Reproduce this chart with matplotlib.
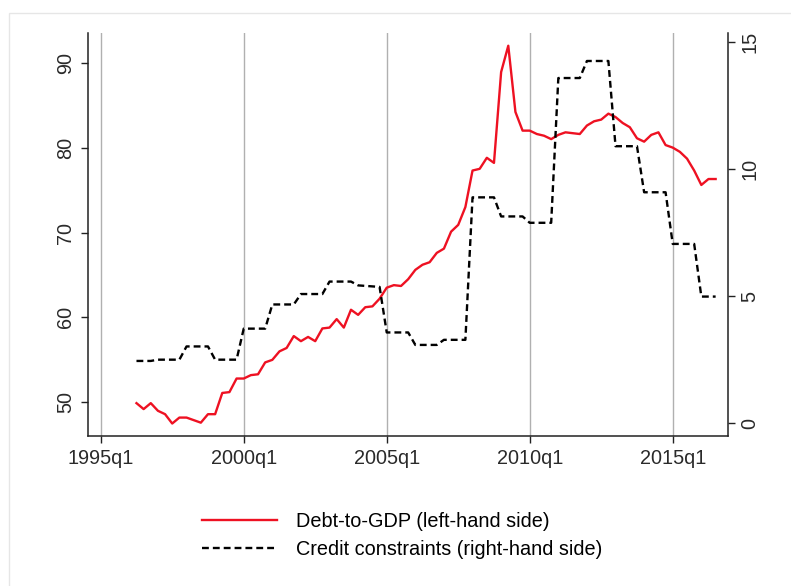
import numpy as np
import pandas as pd
import matplotlib
matplotlib.use("Agg")
import matplotlib.pyplot as plt
from matplotlib.patches import Rectangle

plt.rcParams['font.family'] = ['Liberation Sans', 'DejaVu Sans']

# Quarterly sample, 1996q2 - 2016q3
start_quarter = "1996Q2"

# Household debt-to-GDP ratio (%), left axis
debt_gdp = [
    49.9, 49.2, 49.9, 49.0, 48.6, 47.5, 48.2, 48.2, 47.9, 47.6,
    48.6, 48.6, 51.1, 51.2, 52.8, 52.8, 53.2, 53.3, 54.7, 55.0,
    56.0, 56.4, 57.8, 57.2, 57.7, 57.2, 58.7, 58.8, 59.8, 58.8,
    60.9, 60.3, 61.2, 61.3, 62.2, 63.5, 63.8, 63.7, 64.5, 65.6,
    66.2, 66.5, 67.6, 68.1, 70.1, 70.9, 73.0, 77.3, 77.5, 78.8,
    78.2, 88.9, 92.0, 84.2, 82.0, 82.0, 81.6, 81.4, 81.0, 81.5,
    81.8, 81.7, 81.6, 82.6, 83.1, 83.3, 84.0, 83.6, 82.9, 82.4,
    81.1, 80.7, 81.5, 81.8, 80.3, 80.0, 79.5, 78.7, 77.3, 75.6,
    76.3, 76.3,
]

# Credit constraints index, right axis
credit_constraints = [
    2.45, 2.45, 2.45, 2.50, 2.50, 2.50, 2.50, 3.02, 3.02, 3.02,
    3.02, 2.50, 2.50, 2.50, 2.50, 3.72, 3.72, 3.72, 3.72, 4.67,
    4.67, 4.67, 4.67, 5.08, 5.08, 5.08, 5.08, 5.57, 5.57, 5.57,
    5.57, 5.42, 5.40, 5.38, 5.36, 3.57, 3.57, 3.57, 3.57, 3.08,
    3.08, 3.08, 3.08, 3.28, 3.28, 3.28, 3.28, 8.88, 8.88, 8.88,
    8.88, 8.13, 8.13, 8.13, 8.13, 7.88, 7.88, 7.88, 7.88, 13.57,
    13.57, 13.57, 13.57, 14.24, 14.24, 14.24, 14.24, 10.89, 10.89, 10.89,
    10.89, 9.08, 9.08, 9.08, 9.08, 7.05, 7.05, 7.05, 7.05, 4.98,
    4.98, 4.98,
]

xtick_labels = ["1995q1", "2000q1", "2005q1", "2010q1", "2015q1"]
left_ticks = [50, 60, 70, 80, 90]
right_ticks = [0, 5, 10, 15]

quarters = pd.period_range(start_quarter, periods=len(debt_gdp), freq="Q")
x = np.array([q.ordinal for q in quarters])
xticks = [pd.Period(lab.replace("q", "Q"), freq="Q").ordinal for lab in xtick_labels]

fs = 14.3

fig = plt.figure(figsize=(7.91, 5.86), dpi=100)
fig.patch.set_facecolor("white")
# light outer frame around the graph region
fig.patches.append(Rectangle((9 / 791, -0.05), 1.2, 0.05 + 1 - 13 / 586,
                             transform=fig.transFigure, fill=False,
                             edgecolor="#e6e6e6", lw=1.0))

ax = fig.add_axes([88 / 791, 1 - 436 / 586, 640 / 791, 403 / 586])
ax2 = ax.twinx()

red, = ax.plot(x, debt_gdp, color="#ee1122", lw=1.7,
               label="Debt-to-GDP (left-hand side)")
blk, = ax2.plot(x, credit_constraints, color="black", lw=1.7,
                linestyle=(0, (2.9, 1.7)),
                label="Credit constraints (right-hand side)")

q0 = xticks[0]
ax.set_xlim(q0 - 1.78, q0 + 87.73)
ax.set_ylim(46.03, 93.5)
ax2.set_ylim(-0.5, 15.34)

ax.set_xticks(xticks)
ax.set_xticklabels(xtick_labels)
ax.set_yticks(left_ticks)
ax.set_yticklabels([str(v) for v in left_ticks], rotation=90, va="center")
ax2.set_yticks(right_ticks)
ax2.set_yticklabels([str(v) for v in right_ticks], rotation=90, va="center")

ax.grid(axis="x", color="#b0b0b0", lw=1.0)
ax.set_axisbelow(True)

for a in (ax, ax2):
    a.spines["top"].set_visible(False)
    for s in a.spines.values():
        s.set_color("#222222")
        s.set_linewidth(1.1)
    a.tick_params(labelsize=fs, labelcolor="#2a2a2a", color="#222222",
                  length=5, width=1.0, pad=4)
ax2.spines["left"].set_visible(False)
ax2.spines["bottom"].set_visible(False)
ax.spines["right"].set_visible(False)

fig.legend(handles=[red, blk], loc="center",
           bbox_to_anchor=(402 / 791, 1 - 535.5 / 586),
           frameon=False, fontsize=fs, handlelength=3.8,
           handletextpad=0.95, labelspacing=0.46)

fig.savefig("out.png", dpi=100)
